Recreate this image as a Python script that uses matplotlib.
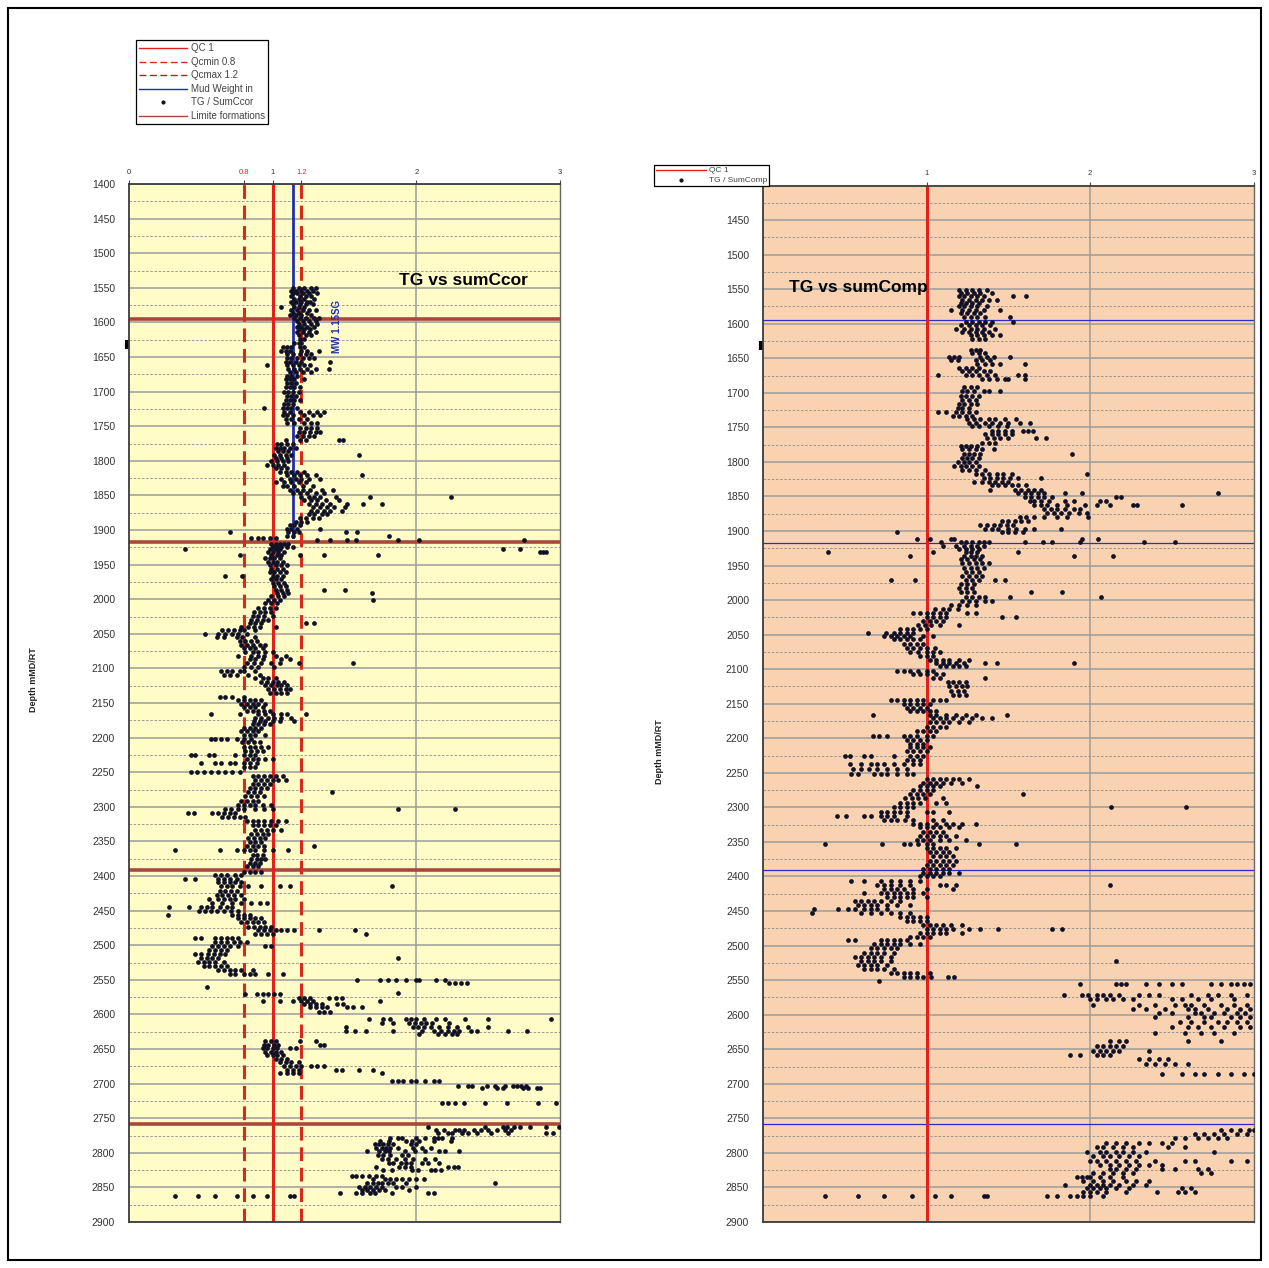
import matplotlib.pyplot as plt
from matplotlib.lines import Line2D
from matplotlib.patches import Rectangle

plt.rcParams["font.family"] = ["Liberation Sans", "DejaVu Sans"]

# ---- chart data -------------------------------------------------------
depth_ticks = list(range(1400, 2901, 50))
depth_minor = list(range(1425, 2900, 50))
formation_tops = [1595, 1917, 2391, 2758]
qc_ref, qc_min, qc_max = 1.0, 0.8, 1.2
mud_weight, mw_top, mw_base = 1.14, 1400, 1910

# TG / SumCcor, rows of (depth, [ratios])
ccor_zone1 = [
    (1550, [1.14, 1.18, 1.22, 1.27, 1.30]), (1554, [1.13, 1.16, 1.20, 1.24, 1.28]),
    (1558, [1.14, 1.17, 1.21, 1.25, 1.31]), (1562, [1.13, 1.19, 1.23, 1.27]),
    (1566, [1.15, 1.18, 1.22, 1.29]), (1570, [1.13, 1.16, 1.20, 1.24, 1.26]),
    (1574, [1.14, 1.19, 1.23, 1.28]), (1578, [1.06, 1.15, 1.18, 1.22]),
    (1582, [1.13, 1.17, 1.21, 1.25, 1.30]), (1586, [1.14, 1.18, 1.24]),
    (1590, [1.12, 1.16, 1.20, 1.27]), (1594, [1.15, 1.19, 1.23, 1.29, 1.32]),
]
ccor_zone2 = [
    (1598, [1.17, 1.21, 1.25, 1.30]), (1602, [1.18, 1.22, 1.27, 1.31]),
    (1606, [1.17, 1.20, 1.24, 1.29]), (1610, [1.18, 1.22, 1.26]),
    (1614, [1.17, 1.21, 1.25, 1.30]), (1618, [1.18, 1.23, 1.27]),
    (1624, [1.19, 1.22]), (1630, [1.15, 1.18, 1.20]),
    (1636, [1.07, 1.10, 1.13, 1.19, 1.22]), (1641, [1.06, 1.09, 1.12, 1.20, 1.24, 1.32]),
    (1646, [1.10, 1.14, 1.19, 1.23, 1.27]), (1652, [1.10, 1.13, 1.17, 1.21, 1.25, 1.29]),
    (1657, [1.09, 1.12, 1.16, 1.20, 1.40]), (1662, [0.96, 1.10, 1.14, 1.18, 1.22, 1.26]),
    (1667, [1.11, 1.15, 1.19, 1.24, 1.30, 1.39]), (1672, [1.12, 1.16, 1.21, 1.27]),
    (1677, [1.10, 1.13, 1.17]), (1682, [1.09, 1.12, 1.15, 1.22]),
    (1688, [1.10, 1.13, 1.16]), (1694, [1.09, 1.12, 1.15, 1.19]),
    (1700, [1.08, 1.11, 1.14, 1.18]), (1706, [1.10, 1.13, 1.16]),
    (1712, [1.09, 1.12, 1.15, 1.19]), (1718, [1.08, 1.11, 1.14]),
    (1724, [0.94, 1.07, 1.10, 1.13, 1.17]), (1729, [1.08, 1.12, 1.19, 1.25, 1.31, 1.36]),
    (1734, [1.07, 1.10, 1.14, 1.22, 1.28, 1.33]), (1740, [1.09, 1.13, 1.18, 1.24]),
    (1746, [1.10, 1.15, 1.22, 1.27, 1.31]), (1752, [1.19, 1.23, 1.27, 1.31]),
    (1758, [1.18, 1.22, 1.26, 1.30, 1.33]), (1764, [1.17, 1.21, 1.25, 1.29]),
    (1770, [1.09, 1.19, 1.23, 1.46, 1.49]), (1776, [1.03, 1.06, 1.10, 1.14]),
    (1781, [1.02, 1.05, 1.08, 1.12, 1.16]), (1786, [1.04, 1.07, 1.11]),
    (1791, [1.01, 1.05, 1.09, 1.13, 1.60]), (1796, [1.02, 1.06, 1.10]),
    (1801, [0.99, 1.03, 1.07, 1.11]), (1806, [0.96, 1.00, 1.04, 1.08]),
    (1811, [1.02, 1.06, 1.10]), (1816, [1.05, 1.09, 1.13, 1.17, 1.22]),
    (1821, [1.10, 1.15, 1.19, 1.24, 1.30, 1.62]), (1826, [1.06, 1.12, 1.16, 1.20, 1.25, 1.33]),
    (1831, [1.02, 1.08, 1.13, 1.18, 1.23]), (1836, [1.07, 1.10, 1.15, 1.21, 1.28]),
    (1842, [1.12, 1.17, 1.21, 1.26, 1.34, 1.42]), (1847, [1.14, 1.19, 1.24, 1.30, 1.36]),
    (1852, [1.20, 1.25, 1.29, 1.33, 1.44, 1.68, 2.24]), (1857, [1.22, 1.27, 1.31, 1.37, 1.46]),
    (1862, [1.25, 1.30, 1.34, 1.40, 1.52, 1.63, 1.76]), (1867, [1.28, 1.33, 1.38, 1.43, 1.50]),
    (1872, [1.27, 1.31, 1.36, 1.40, 1.48]), (1877, [1.25, 1.29, 1.34, 1.38]),
    (1882, [1.19, 1.23, 1.28, 1.32]), (1888, [1.16, 1.20, 1.24]),
    (1893, [1.12, 1.15, 1.19]), (1898, [1.10, 1.13, 1.17, 1.33]),
    (1903, [0.70, 1.11, 1.15, 1.18, 1.51, 1.59]), (1908, [1.10, 1.14, 1.81]),
    (1912, [0.85, 0.90, 0.93, 0.98, 1.02]), (1915, [1.31, 1.40, 1.52, 1.58, 1.87, 2.02, 2.75]),
]
ccor_zone3 = [
    (1920, [0.99, 1.02, 1.05, 1.08, 1.11]), (1924, [1.00, 1.03, 1.06, 1.10, 1.14]),
    (1928, [0.39, 0.98, 1.02, 1.05, 2.60, 2.72]), (1932, [0.97, 1.00, 1.04, 1.08, 2.86, 2.88, 2.90]),
    (1936, [0.77, 0.99, 1.03, 1.06, 1.19, 1.36, 1.73]), (1941, [0.95, 0.98, 1.01, 1.05]),
    (1946, [0.97, 1.00, 1.03, 1.07]), (1951, [0.98, 1.02, 1.06, 1.10]),
    (1956, [0.99, 1.03, 1.07]), (1961, [0.98, 1.01, 1.05, 1.09]),
    (1966, [0.67, 0.79, 1.00, 1.03, 1.07]), (1971, [0.99, 1.02, 1.06]),
    (1976, [1.00, 1.04, 1.08]), (1981, [1.01, 1.05, 1.09]),
    (1986, [1.02, 1.06, 1.10, 1.36, 1.50]), (1991, [1.03, 1.07, 1.11, 1.69]),
    (1996, [0.99, 1.04, 1.08]), (2001, [0.97, 1.01, 1.05, 1.70]),
    (2006, [0.95, 0.99, 1.03]), (2012, [0.90, 0.94, 0.98, 1.02]),
    (2018, [0.87, 0.91, 0.95, 0.99]), (2024, [0.86, 0.90, 0.94, 1.00]),
    (2030, [0.85, 0.89, 0.93, 0.97]), (2035, [0.84, 0.88, 0.92, 1.23, 1.29]),
    (2040, [0.78, 0.83, 0.87, 0.91, 1.02]), (2045, [0.65, 0.69, 0.73, 0.77, 0.80, 0.88]),
    (2050, [0.53, 0.62, 0.67, 0.72, 0.76, 0.82]), (2055, [0.61, 0.66, 0.75, 0.79, 0.88]),
    (2060, [0.77, 0.81, 0.85, 0.89]), (2066, [0.78, 0.82, 0.86, 0.91, 0.95]),
    (2071, [0.80, 0.84, 0.88, 0.93]), (2077, [0.81, 0.86, 0.90, 0.95, 1.00]),
    (2082, [0.76, 0.85, 0.90, 0.94, 1.02, 1.09]), (2087, [0.84, 0.88, 0.93, 1.06, 1.12]),
    (2092, [0.82, 0.87, 0.92, 0.99, 1.05, 1.18, 1.56]), (2098, [0.80, 0.85, 0.90, 1.01]),
    (2104, [0.64, 0.68, 0.72, 0.77, 0.80, 0.88]), (2109, [0.66, 0.70, 0.75, 0.83, 0.91]),
    (2114, [0.88, 0.93, 0.97, 1.02]), (2119, [0.92, 0.96, 1.00, 1.04, 1.08]),
    (2124, [0.95, 0.99, 1.03, 1.06, 1.10]), (2130, [0.97, 1.01, 1.05, 1.09, 1.12]),
    (2135, [0.98, 1.02, 1.06, 1.10]), (2141, [0.63, 0.67, 0.72, 0.80]),
    (2146, [0.76, 0.80, 0.84, 0.88, 0.92]), (2151, [0.78, 0.82, 0.86, 0.90, 0.95]),
    (2156, [0.80, 0.84, 0.88, 0.93]), (2161, [0.82, 0.86, 0.90, 0.94, 0.98]),
    (2166, [0.57, 0.77, 0.90, 0.95, 1.00, 1.06, 1.10, 1.23]), (2171, [0.88, 0.92, 0.97, 1.01, 1.06, 1.13]),
    (2176, [0.87, 0.91, 0.95, 1.00, 1.05, 1.15]), (2181, [0.86, 0.90, 0.94, 0.98]),
    (2186, [0.80, 0.84, 0.88, 0.92]), (2191, [0.78, 0.82, 0.86, 0.90]),
    (2196, [0.80, 0.84, 0.88, 0.95]), (2202, [0.57, 0.60, 0.64, 0.68, 0.75, 0.80, 0.85]),
    (2207, [0.79, 0.83, 0.87, 0.91]), (2213, [0.80, 0.84, 0.88, 0.92, 0.97]),
    (2219, [0.81, 0.85, 0.89, 0.93]), (2225, [0.43, 0.46, 0.56, 0.59, 0.74, 0.80, 0.84, 0.88]),
    (2231, [0.82, 0.86, 0.90, 0.95, 1.00]), (2237, [0.50, 0.60, 0.64, 0.70, 0.74, 0.80, 0.84, 0.89]),
    (2243, [0.80, 0.84, 0.88]), (2249, [0.43, 0.47, 0.52, 0.57, 0.62, 0.67, 0.72, 0.77]),
    (2255, [0.86, 0.90, 0.94, 0.98, 1.02, 1.07]), (2261, [0.88, 0.92, 0.96, 1.00, 1.04, 1.09]),
    (2267, [0.86, 0.90, 0.94, 0.98]), (2273, [0.84, 0.88, 0.92, 0.96]),
    (2279, [0.83, 0.87, 0.91, 1.41]), (2285, [0.81, 0.85, 0.89, 0.94]),
    (2291, [0.78, 0.82, 0.86, 0.90]), (2297, [0.76, 0.80, 0.84, 0.88, 0.93, 0.99]),
    (2303, [0.67, 0.71, 0.76, 0.80, 0.88, 0.94, 1.00, 1.87, 2.27]),
    (2309, [0.41, 0.45, 0.58, 0.62, 0.66, 0.70, 0.74]), (2315, [0.65, 0.69, 0.73, 0.77, 0.81]),
    (2321, [0.82, 0.86, 0.90, 0.94, 0.99, 1.04, 1.09]), (2327, [0.86, 0.90, 0.94, 0.98, 1.02]),
    (2333, [0.88, 0.92, 0.96, 1.00, 1.06]), (2339, [0.85, 0.89, 0.93, 0.97]),
    (2345, [0.83, 0.87, 0.91, 0.95]), (2351, [0.84, 0.88, 0.92]),
    (2357, [0.82, 0.86, 0.90, 0.94, 1.29]),
    (2363, [0.32, 0.63, 0.75, 0.80, 0.84, 0.88, 0.94, 1.00, 1.11]),
    (2369, [0.86, 0.89, 0.93]), (2375, [0.85, 0.89, 0.92, 0.95]),
    (2381, [0.84, 0.88, 0.91]), (2386, [0.82, 0.86, 0.90]),
]
ccor_zone4 = [
    (2394, [0.80, 0.84, 0.88, 0.92]), (2399, [0.60, 0.64, 0.68, 0.74, 0.78]),
    (2404, [0.39, 0.46, 0.62, 0.66, 0.70, 0.75]), (2409, [0.62, 0.66, 0.70, 0.74, 0.78]),
    (2415, [0.64, 0.68, 0.72, 0.77, 0.83, 0.92, 1.05, 1.12, 1.83]),
    (2421, [0.63, 0.67, 0.71, 0.75]), (2427, [0.61, 0.65, 0.69, 0.73, 0.78]),
    (2433, [0.56, 0.62, 0.66, 0.70, 0.74, 0.80]), (2439, [0.58, 0.65, 0.72, 0.78, 0.85, 0.91, 0.96]),
    (2445, [0.28, 0.42, 0.50, 0.54, 0.58, 0.63, 0.68, 0.72]),
    (2451, [0.49, 0.53, 0.57, 0.61, 0.66, 0.71, 0.76]), (2456, [0.27, 0.72, 0.76, 0.80, 0.84]),
    (2461, [0.76, 0.80, 0.84, 0.88, 0.92]), (2467, [0.78, 0.82, 0.86, 0.90, 0.94]),
    (2473, [0.83, 0.87, 0.91, 0.95, 0.99]),
    (2478, [0.90, 0.94, 0.98, 1.02, 1.06, 1.10, 1.15, 1.32, 1.57]),
    (2484, [0.88, 0.92, 0.96, 1.00, 1.65]), (2490, [0.46, 0.50, 0.60, 0.64, 0.68, 0.72, 0.76]),
    (2495, [0.60, 0.64, 0.68, 0.73, 0.77, 0.82]), (2501, [0.58, 0.62, 0.66, 0.70, 0.76, 0.95, 0.99]),
    (2507, [0.56, 0.60, 0.64, 0.68]), (2513, [0.46, 0.50, 0.55, 0.59, 0.63, 0.67]),
    (2518, [0.50, 0.54, 0.58, 0.62, 1.87]), (2524, [0.48, 0.52, 0.56, 0.60, 0.66]),
    (2530, [0.52, 0.56, 0.60, 0.64, 0.68]), (2536, [0.62, 0.66, 0.70, 0.74, 0.78, 0.86]),
    (2542, [0.70, 0.74, 0.80, 0.84, 0.88, 0.97, 1.07]),
    (2550, [1.59, 1.75, 1.80, 1.86, 1.93, 2.00, 2.02, 2.14, 2.20]),
    (2554, [2.23, 2.27, 2.31, 2.35]), (2560, [0.54]), (2569, [1.87]),
    (2571, [0.81, 0.89, 0.93, 0.97, 1.01, 1.05]), (2576, [1.18, 1.22, 1.26, 1.39, 1.44, 1.48]),
    (2580, [0.93, 1.05, 1.14, 1.20, 1.24, 1.28, 1.75]), (2585, [1.22, 1.26, 1.30, 1.34, 1.45, 1.49]),
    (2590, [1.26, 1.30, 1.34, 1.38, 1.52, 1.56, 1.62]), (2596, [1.32, 1.36, 1.40]),
    (2607, [1.67, 1.77, 1.82, 1.93, 1.96, 2.00, 2.05, 2.14, 2.20, 2.34, 2.50, 2.94]),
    (2612, [1.76, 1.84, 1.95, 1.99, 2.03, 2.07, 2.11, 2.23]),
    (2618, [1.51, 1.98, 2.01, 2.05, 2.10, 2.16, 2.22, 2.28, 2.36, 2.50]),
    (2624, [1.51, 1.57, 1.65, 1.84, 2.04, 2.12, 2.17, 2.22, 2.26, 2.30, 2.38, 2.42, 2.64, 2.77]),
    (2629, [2.02, 2.15, 2.20, 2.25, 2.28]), (2639, [0.95, 0.99, 1.02, 1.19, 1.30]),
    (2644, [0.94, 0.97, 1.01, 1.04, 1.33, 1.36]), (2649, [0.93, 0.96, 1.00, 1.03, 1.12, 1.16]),
    (2654, [0.95, 0.99, 1.02, 1.06]), (2659, [0.96, 1.00, 1.03, 1.07]),
    (2664, [1.02, 1.06, 1.10]), (2669, [1.05, 1.09, 1.13, 1.18]),
    (2675, [1.08, 1.12, 1.16, 1.20, 1.27, 1.31, 1.36]), (2680, [1.10, 1.14, 1.18, 1.44, 1.48, 1.60, 1.70]),
    (2685, [1.05, 1.10, 1.14, 1.18, 1.76]), (2696, [1.83, 1.87, 1.91, 1.96, 2.00, 2.06, 2.12, 2.16]),
    (2703, [2.29, 2.36, 2.39, 2.49, 2.55, 2.62, 2.67, 2.70, 2.73, 2.76]),
    (2707, [2.46, 2.56, 2.60, 2.74, 2.78, 2.84, 2.86]),
    (2728, [2.18, 2.22, 2.27, 2.33, 2.48, 2.63, 2.85, 2.97]),
]
ccor_zone5 = [
    (2762, [2.08, 2.48, 2.60, 2.63, 2.68, 2.72, 2.79, 2.90, 2.99]),
    (2767, [2.14, 2.19, 2.27, 2.30, 2.33, 2.40, 2.45, 2.50, 2.56, 2.62, 2.66]),
    (2772, [2.15, 2.22, 2.25, 2.32, 2.36, 2.42, 2.52, 2.64, 2.90, 2.95]),
    (2778, [1.82, 1.87, 1.90, 2.00, 2.06, 2.12, 2.15, 2.18, 2.25]),
    (2783, [1.75, 1.81, 1.93, 1.97, 2.02, 2.12, 2.24]),
    (2788, [1.71, 1.74, 1.77, 1.80, 1.84, 1.96, 2.00]),
    (2793, [1.72, 1.76, 1.79, 1.82, 1.87, 1.98, 2.04, 2.10]),
    (2798, [1.66, 1.74, 1.78, 1.81, 1.92, 1.99, 2.06, 2.16, 2.20, 2.30]),
    (2803, [1.73, 1.77, 1.82, 1.90, 1.94]),
    (2809, [1.76, 1.80, 1.86, 1.92, 1.98, 2.06, 2.13]),
    (2815, [1.81, 1.84, 1.89, 1.93, 1.96, 2.04, 2.08, 2.16]),
    (2820, [1.72, 1.88, 1.92, 1.96, 2.22, 2.26, 2.29]),
    (2825, [1.77, 1.83, 1.97, 2.01, 2.10, 2.13, 2.17]),
    (2833, [1.55, 1.58, 1.62, 1.67, 1.72, 1.76]),
    (2838, [1.70, 1.78, 1.82, 1.86, 1.90, 1.95, 2.00, 2.05]),
    (2843, [1.66, 1.70, 1.73, 1.76, 1.80, 1.84, 1.93, 2.55]),
    (2849, [1.60, 1.64, 1.68, 1.72, 1.76, 1.86, 1.90, 2.00]),
    (2854, [1.62, 1.66, 1.70, 1.74, 1.78, 1.95]),
    (2858, [1.47, 1.58, 1.62, 1.68, 1.71, 1.83, 2.08, 2.12]),
    (2862, [0.32, 0.48, 0.60, 0.75, 0.86, 0.96, 1.12, 1.15]),
]

# TG / SumComp, rows of (depth, [ratios])
comp_zone1 = [
    (1551, [1.20, 1.24, 1.28, 1.32, 1.37]), (1555, [1.21, 1.25, 1.29, 1.33, 1.40]),
    (1560, [1.20, 1.23, 1.27, 1.31, 1.35, 1.53, 1.61]), (1565, [1.22, 1.26, 1.30, 1.34, 1.38, 1.43]),
    (1570, [1.21, 1.24, 1.28, 1.32]), (1575, [1.20, 1.23, 1.27, 1.31, 1.37]),
    (1580, [1.15, 1.22, 1.26, 1.30, 1.35, 1.45]), (1585, [1.21, 1.25, 1.29, 1.33]),
    (1590, [1.23, 1.27, 1.31, 1.36, 1.51]),
]
comp_zone2 = [
    (1597, [1.24, 1.28, 1.32, 1.36, 1.40, 1.53]), (1602, [1.21, 1.26, 1.30, 1.34, 1.39]),
    (1607, [1.18, 1.23, 1.27, 1.31, 1.35, 1.42]), (1612, [1.22, 1.26, 1.30, 1.34, 1.38]),
    (1617, [1.27, 1.31, 1.35, 1.40, 1.45]), (1622, [1.28, 1.32, 1.36]),
    (1638, [1.27, 1.30, 1.33]), (1643, [1.28, 1.32, 1.36]),
    (1648, [1.14, 1.17, 1.20, 1.33, 1.37, 1.41, 1.51]), (1653, [1.15, 1.19, 1.30, 1.34, 1.39]),
    (1659, [1.31, 1.36, 1.40, 1.45, 1.60]), (1664, [1.20, 1.24, 1.28, 1.32]),
    (1669, [1.22, 1.26, 1.30, 1.35, 1.39]), (1674, [1.07, 1.24, 1.28, 1.32, 1.37, 1.42, 1.56, 1.60]),
    (1680, [1.34, 1.38, 1.43, 1.48, 1.50, 1.60]), (1692, [1.23, 1.27, 1.31]),
    (1698, [1.22, 1.25, 1.29, 1.35, 1.38, 1.45]), (1704, [1.21, 1.24, 1.28, 1.32]),
    (1710, [1.22, 1.26, 1.30]), (1716, [1.20, 1.23, 1.27, 1.31]),
    (1722, [1.19, 1.22, 1.26]), (1728, [1.07, 1.12, 1.18, 1.22, 1.26, 1.30]),
    (1733, [1.16, 1.20, 1.24, 1.28]), (1738, [1.25, 1.29, 1.33, 1.38, 1.42, 1.48, 1.55]),
    (1743, [1.26, 1.30, 1.36, 1.40, 1.45, 1.50, 1.57, 1.63]), (1748, [1.28, 1.32, 1.38, 1.44, 1.49]),
    (1755, [1.40, 1.44, 1.48, 1.52, 1.59, 1.62, 1.65]), (1760, [1.36, 1.40, 1.44, 1.48, 1.52]),
    (1766, [1.37, 1.41, 1.45, 1.50, 1.67, 1.73]), (1772, [1.34, 1.38, 1.42]),
    (1777, [1.21, 1.24, 1.27, 1.31]), (1782, [1.22, 1.26, 1.30, 1.34, 1.41]),
    (1788, [1.23, 1.26, 1.29, 1.33, 1.89]), (1794, [1.22, 1.25, 1.28, 1.32]),
    (1800, [1.19, 1.23, 1.26, 1.30]), (1806, [1.17, 1.21, 1.24, 1.28, 1.32]),
    (1812, [1.22, 1.26, 1.30, 1.36]), (1818, [1.30, 1.34, 1.38, 1.43, 1.47, 1.52, 1.98]),
    (1823, [1.35, 1.39, 1.43, 1.47, 1.51, 1.56, 1.70]), (1829, [1.29, 1.34, 1.38, 1.42, 1.46, 1.50]),
    (1834, [1.40, 1.44, 1.48, 1.52, 1.56, 1.61]), (1840, [1.39, 1.54, 1.58, 1.62, 1.66, 1.70]),
    (1845, [1.56, 1.60, 1.64, 1.68, 1.72, 1.85, 1.95, 2.78]),
    (1851, [1.60, 1.64, 1.68, 1.72, 1.77, 2.16, 2.19]),
    (1856, [1.63, 1.66, 1.70, 1.75, 1.85, 1.90, 2.06, 2.10]),
    (1862, [1.66, 1.70, 1.74, 1.80, 1.86, 1.97, 2.04, 2.12, 2.26, 2.29, 2.56]),
    (1868, [1.72, 1.76, 1.80, 1.85, 1.90, 1.94]), (1874, [1.74, 1.78, 1.82, 1.87, 1.93, 1.98]),
    (1880, [1.57, 1.61, 1.66, 1.72, 1.80, 1.86, 1.99]), (1886, [1.46, 1.50, 1.54, 1.58, 1.62]),
    (1891, [1.33, 1.37, 1.41, 1.45, 1.49, 1.53]),
    (1897, [1.36, 1.40, 1.44, 1.50, 1.55, 1.60, 1.66, 1.82]),
    (1902, [0.82, 1.46, 1.50, 1.54, 1.59]), (1912, [0.94, 1.02, 1.15, 1.17, 1.95, 2.05]),
    (1916, [1.09, 1.21, 1.24, 1.28, 1.32, 1.35, 1.38, 1.60, 1.71, 1.77, 1.94, 2.33, 2.52]),
]
comp_zone3 = [
    (1921, [1.10, 1.18, 1.23, 1.27, 1.31, 1.35]), (1926, [1.20, 1.24, 1.28, 1.32]),
    (1931, [0.40, 1.04, 1.24, 1.27, 1.31, 1.56]), (1936, [0.90, 1.23, 1.27, 1.30, 1.34, 1.90, 2.14]),
    (1941, [1.21, 1.25, 1.29, 1.33]), (1947, [1.22, 1.26, 1.30, 1.34, 1.38]),
    (1953, [1.23, 1.27, 1.31, 1.35]), (1959, [1.24, 1.28, 1.32]),
    (1965, [1.22, 1.26, 1.30, 1.34]), (1971, [0.78, 0.93, 1.24, 1.28, 1.32, 1.42, 1.48]),
    (1977, [1.21, 1.25, 1.29]), (1983, [1.20, 1.24, 1.28]),
    (1989, [1.21, 1.25, 1.29, 1.64, 1.83]), (1995, [1.24, 1.28, 1.32, 1.36, 1.51, 2.07]),
    (2001, [1.22, 1.26, 1.30, 1.36, 1.40]), (2007, [1.15, 1.20, 1.25, 1.30]),
    (2013, [1.05, 1.10, 1.14, 1.19]), (2018, [0.92, 0.96, 1.00, 1.04, 1.08, 1.12, 1.25, 1.30]),
    (2024, [1.00, 1.04, 1.08, 1.12, 1.46, 1.55]), (2030, [0.98, 1.02, 1.06, 1.10]),
    (2036, [0.95, 0.99, 1.03, 1.08, 1.20]), (2042, [0.84, 0.88, 0.92, 0.96, 1.00]),
    (2047, [0.64, 0.75, 0.80, 0.84, 0.88, 0.92]), (2052, [0.74, 0.78, 0.82, 0.86, 0.90, 0.98, 1.04]),
    (2057, [0.80, 0.84, 0.88, 0.92, 0.96]), (2063, [0.86, 0.90, 0.94, 0.98]),
    (2069, [0.88, 0.92, 0.96, 1.00, 1.05]), (2075, [0.90, 0.95, 1.00, 1.04, 1.08]),
    (2081, [0.96, 1.00, 1.04]), (2086, [1.02, 1.06, 1.10, 1.14, 1.20, 1.26]),
    (2091, [1.06, 1.10, 1.14, 1.18, 1.23, 1.36, 1.43, 1.90]), (2096, [1.08, 1.12, 1.16, 1.20, 1.24]),
    (2102, [0.82, 0.86, 0.90, 0.95, 1.00, 1.04]), (2107, [0.92, 0.96, 1.00, 1.06, 1.10]),
    (2113, [1.04, 1.08, 1.36]), (2119, [1.13, 1.16, 1.20, 1.24]),
    (2125, [1.14, 1.18, 1.22, 1.25]), (2131, [1.15, 1.19, 1.23]), (2137, [1.16, 1.20, 1.24]),
    (2144, [0.78, 0.82, 0.86, 0.90, 0.94, 0.98, 1.04, 1.08, 1.12]),
    (2150, [0.86, 0.90, 0.94, 0.98, 1.02]), (2156, [0.88, 0.92, 0.96, 1.00]),
    (2161, [0.90, 0.94, 0.98, 1.02, 1.06]), (2166, [0.67, 1.02, 1.06, 1.12, 1.18, 1.24, 1.30, 1.49]),
    (2171, [1.04, 1.08, 1.12, 1.16, 1.22, 1.28, 1.34, 1.40]),
    (2177, [1.02, 1.06, 1.10, 1.14, 1.20, 1.26]), (2183, [1.00, 1.04, 1.08, 1.12]),
    (2190, [0.94, 0.98, 1.02, 1.06]), (2196, [0.67, 0.71, 0.76, 0.86, 0.90, 0.94, 1.00, 1.04]),
    (2202, [0.88, 0.92, 0.96, 1.00]), (2208, [0.90, 0.94, 0.98]),
    (2213, [0.90, 0.94, 0.98, 1.02]), (2219, [0.88, 0.92, 0.96, 1.00]),
    (2225, [0.50, 0.53, 0.62, 0.66, 0.80, 0.90, 0.94, 0.98]), (2231, [0.88, 0.92, 0.96]),
    (2237, [0.53, 0.60, 0.66, 0.70, 0.74, 0.80, 0.86, 0.92, 0.96]),
    (2244, [0.55, 0.60, 0.65, 0.70, 0.76, 0.82, 0.88]),
    (2251, [0.54, 0.58, 0.68, 0.72, 0.76, 0.82, 0.88, 0.92]),
    (2259, [1.00, 1.04, 1.08, 1.12, 1.16, 1.20, 1.26]), (2264, [0.98, 1.02, 1.06, 1.10, 1.15, 1.22]),
    (2269, [0.96, 1.00, 1.04, 1.08, 1.31]), (2275, [0.92, 0.96, 1.00, 1.04]),
    (2281, [0.90, 0.94, 0.98, 1.02, 1.59]), (2287, [0.87, 0.91, 0.95, 0.99, 1.10]),
    (2293, [0.84, 0.88, 0.92, 0.96, 1.06, 1.12]), (2300, [0.80, 0.84, 0.88, 0.92, 2.13, 2.59]),
    (2306, [0.72, 0.76, 0.80, 0.84, 0.88, 1.00, 1.04, 1.14]),
    (2312, [0.45, 0.51, 0.62, 0.66, 0.72, 0.76, 0.80, 0.88]),
    (2318, [0.74, 0.78, 0.82, 0.87, 0.92, 1.04, 1.10]),
    (2324, [0.92, 0.96, 1.00, 1.06, 1.12, 1.16, 1.22, 1.30]),
    (2329, [0.96, 1.00, 1.04, 1.08, 1.14, 1.20]), (2335, [0.98, 1.02, 1.06, 1.10]),
    (2341, [0.96, 1.00, 1.04, 1.08, 1.12, 1.18]), (2347, [0.94, 0.98, 1.02, 1.08, 1.14, 1.24]),
    (2353, [0.38, 0.73, 0.86, 0.90, 0.95, 1.00, 1.04, 1.32, 1.55]),
    (2359, [1.00, 1.04, 1.08, 1.12, 1.18]), (2365, [1.02, 1.06, 1.10, 1.14]),
    (2371, [1.04, 1.08, 1.12, 1.16]), (2377, [1.02, 1.06, 1.10, 1.14, 1.18]),
    (2383, [1.00, 1.04, 1.08, 1.12, 1.16]), (2389, [0.98, 1.02, 1.06, 1.10, 1.14]),
]
comp_zone4 = [
    (2395, [0.98, 1.02, 1.06, 1.10, 1.14, 1.20]), (2400, [0.96, 1.00, 1.04, 1.08]),
    (2406, [0.54, 0.62, 0.72, 0.78, 0.84, 0.90, 0.96]),
    (2412, [0.70, 0.74, 0.78, 0.84, 0.90, 1.08, 1.12, 1.18, 2.12]),
    (2418, [0.74, 0.78, 0.82, 0.86, 0.92, 1.00, 1.16]),
    (2424, [0.62, 0.72, 0.76, 0.80, 0.84, 0.88, 0.92, 0.98]),
    (2430, [0.76, 0.80, 0.84, 0.88, 0.92, 1.00]), (2436, [0.56, 0.60, 0.64, 0.68, 0.72, 0.78, 0.84]),
    (2441, [0.58, 0.62, 0.66, 0.70, 0.76, 0.82, 0.90]),
    (2447, [0.31, 0.46, 0.52, 0.56, 0.62, 0.66, 0.70, 0.76]),
    (2453, [0.30, 0.60, 0.66, 0.72, 0.78, 0.84, 0.90]), (2458, [0.84, 0.88, 0.92, 0.96, 1.00]),
    (2464, [0.88, 0.92, 0.96, 1.00]), (2470, [0.98, 1.02, 1.06, 1.10, 1.15, 1.22]),
    (2476, [1.00, 1.04, 1.08, 1.12, 1.16, 1.26, 1.33, 1.44, 1.77, 1.83]),
    (2482, [0.96, 1.00, 1.04, 1.08, 1.12, 1.22]), (2488, [0.90, 0.94, 0.98, 1.02]),
    (2492, [0.52, 0.56, 0.72, 0.76, 0.80, 0.84, 0.88]),
    (2498, [0.68, 0.72, 0.76, 0.80, 0.84, 0.90, 0.96]), (2504, [0.66, 0.70, 0.74, 0.78, 0.82]),
    (2510, [0.62, 0.66, 0.70, 0.74, 0.80]), (2516, [0.56, 0.60, 0.64, 0.68, 0.72, 0.78]),
    (2522, [0.60, 0.64, 0.68, 0.72, 0.78, 2.16]), (2528, [0.58, 0.62, 0.66, 0.70, 0.76]),
    (2534, [0.62, 0.66, 0.70, 0.74, 0.80]), (2540, [0.78, 0.82, 0.86, 0.90, 0.94, 1.02]),
    (2546, [0.86, 0.90, 0.94, 0.98, 1.03, 1.13, 1.17]), (2551, [0.71]),
    (2555, [1.94, 2.16, 2.19, 2.22, 2.34, 2.42, 2.50, 2.56, 2.74, 2.80, 2.86, 2.90, 2.94, 2.98]),
    (2571, [1.84, 1.95, 1.99, 2.04, 2.08, 2.12, 2.18, 2.30, 2.36, 2.42, 2.62, 2.72, 2.78, 2.86, 2.96]),
    (2577, [2.00, 2.04, 2.10, 2.14, 2.20, 2.26, 2.50, 2.56, 2.66, 2.74, 2.88]),
    (2586, [2.02, 2.30, 2.40, 2.52, 2.58, 2.62, 2.70, 2.80, 2.88, 2.96]),
    (2592, [2.26, 2.34, 2.46, 2.60, 2.64, 2.72, 2.84, 2.92, 2.98]),
    (2598, [2.42, 2.50, 2.64, 2.68, 2.76, 2.82, 2.90, 2.95]),
    (2604, [2.40, 2.60, 2.70, 2.74, 2.86, 2.92, 2.98]),
    (2610, [2.55, 2.62, 2.70, 2.78, 2.84, 2.90, 2.96]),
    (2618, [2.50, 2.60, 2.66, 2.74, 2.82, 2.92, 2.98]),
    (2626, [2.40, 2.58, 2.68, 2.76, 2.88]), (2638, [2.12, 2.18, 2.22, 2.60, 2.80]),
    (2645, [2.04, 2.08, 2.12, 2.16, 2.20]), (2652, [2.02, 2.06, 2.10, 2.14, 2.18, 2.36]),
    (2658, [1.88, 1.94, 2.04, 2.08, 2.12]), (2664, [2.30, 2.36, 2.42, 2.48]),
    (2672, [2.34, 2.40, 2.46, 2.52, 2.60]),
    (2686, [2.44, 2.56, 2.64, 2.70, 2.78, 2.86, 2.94, 3.00]),
]
comp_zone5 = [
    (2767, [2.80, 2.86, 2.92, 2.97, 3.00]), (2772, [2.64, 2.70, 2.76, 2.82, 2.90, 2.96]),
    (2779, [2.52, 2.58, 2.66, 2.72, 2.78, 2.84]),
    (2786, [2.10, 2.16, 2.22, 2.30, 2.36, 2.44, 2.50]),
    (2792, [2.04, 2.08, 2.14, 2.20, 2.26, 2.48, 2.58]),
    (2798, [1.98, 2.06, 2.10, 2.16, 2.20, 2.26, 2.34, 2.76]),
    (2804, [2.02, 2.08, 2.12, 2.18, 2.24, 2.30]),
    (2811, [2.00, 2.04, 2.10, 2.16, 2.22, 2.28, 2.40, 2.58, 2.64, 2.86, 2.96]),
    (2817, [2.06, 2.12, 2.18, 2.24, 2.30, 2.36, 2.44]),
    (2823, [2.12, 2.16, 2.22, 2.28, 2.44, 2.52, 2.66, 2.72]),
    (2829, [2.02, 2.08, 2.14, 2.20, 2.26, 2.68, 2.74]),
    (2835, [1.92, 1.95, 1.98, 2.00, 2.06, 2.12, 2.20]),
    (2840, [1.96, 2.02, 2.08, 2.14, 2.22, 2.28, 2.36]),
    (2846, [1.85, 2.00, 2.04, 2.08, 2.12, 2.18, 2.26, 2.34]),
    (2851, [1.98, 2.02, 2.06, 2.10, 2.16, 2.24, 2.56, 2.62]),
    (2857, [1.96, 2.00, 2.04, 2.10, 2.22, 2.41, 2.54, 2.58, 2.64]),
    (2862, [0.38, 0.58, 0.74, 0.91, 1.05, 1.15, 1.35, 1.37, 1.74, 1.80,
            1.88, 1.92, 1.96, 2.00, 2.08]),
]

# ---- styling -----------------------------------------------------------
DOT = "#111126"
QC_RED = "#e3211c"
FORM_RED = "#a9473d"
MW_BLUE = "#1f2db4"
GRID = "#9c9c9c"


def flatten(*zones):
    depths, ratios = [], []
    for zone in zones:
        for depth, vals in zone:
            depths += [depth] * len(vals)
            ratios += vals
    return depths, ratios


def setup_track(ax, face, xticks, xlabels):
    ax.set_facecolor(face)
    ax.set_xlim(0, 3)
    ax.set_ylim(2900, 1400)
    ax.set_yticks(depth_ticks)
    ax.set_yticks(depth_minor, minor=True)
    ax.yaxis.grid(True, which="major", color=GRID, lw=1.1)
    ax.yaxis.grid(True, which="minor", color="#8c8c8c", lw=0.6, ls=(0, (3, 2)))
    ax.axvline(1, color=GRID, lw=1.1, zorder=0.5)
    ax.axvline(2, color=GRID, lw=1.1, zorder=0.5)
    ax.set_axisbelow(True)
    ax.xaxis.tick_top()
    ax.set_xticks(xticks)
    ax.set_xticklabels(xlabels)
    ax.tick_params(axis="x", length=3, width=0.8, color="#444", pad=3,
                   labelsize=5.5, labelcolor="#333")
    ax.tick_params(axis="y", which="major", length=0, pad=10,
                   labelsize=7.5, labelcolor="#333")
    ax.tick_params(axis="y", which="minor", length=0)
    for side in ("left", "top", "bottom"):
        ax.spines[side].set_color("#3c3c3c")
        ax.spines[side].set_linewidth(1.3)
    ax.spines["right"].set_color("#666")
    ax.spines["right"].set_linewidth(1.0)
    # small black marker on the depth axis
    ax.plot([-0.012, -0.012], [1625, 1638], color="black", lw=3,
            clip_on=False, solid_capstyle="butt")


fig = plt.figure(figsize=(12.69, 12.68), dpi=100)

# ---- left track: TG / SumCcor -----------------------------------------
ax1 = fig.add_axes([129 / 1269, 1 - 1222 / 1268, 431 / 1269, 1038 / 1268])
setup_track(ax1, "#fffcc8", [0, 0.8, 1, 1.2, 2, 3],
            ["0", "0.8", "1", "1.2", "2", "3"])
for lbl in ax1.get_xticklabels():
    if lbl.get_text() in ("0.8", "1.2"):
        lbl.set_color(QC_RED)

for d in formation_tops:
    ax1.axhline(d, color=FORM_RED, lw=2.6, zorder=2)
ax1.axvline(qc_ref, color=QC_RED, lw=2.2, zorder=2)
ax1.axvline(qc_min, color="#d82a1c", lw=2.2, ls=(0, (4.5, 2.2)), zorder=2)
ax1.axvline(qc_max, color="#d82a1c", lw=2.2, ls=(0, (4.5, 2.2)), zorder=2)
ax1.plot([mud_weight, mud_weight], [mw_top, mw_base], color=MW_BLUE, lw=2, zorder=2)

d1, r1 = flatten(ccor_zone1, ccor_zone2, ccor_zone3, ccor_zone4, ccor_zone5)
ax1.plot(r1, d1, "o", ms=3.4, mec="none", color=DOT, zorder=3)

ax1.text(1.88, 1540, "TG vs sumCcor", fontsize=12.5, fontweight="bold",
         va="center", ha="left", zorder=4)
ax1.text(1.45, 1606, "MW 1.15SG", rotation=90, color=MW_BLUE, fontsize=7,
         fontweight="bold", ha="center", va="center", zorder=4)

# ---- right track: TG / SumComp ----------------------------------------
ax2 = fig.add_axes([763 / 1269, 1 - 1222 / 1268, 490.5 / 1269, 1036.5 / 1268])
setup_track(ax2, "#f9d3b1", [0, 1, 2, 3], ["", "1", "2", "3"])
ax2.set_yticklabels([""] + [str(d) for d in depth_ticks[1:]])

for d in formation_tops:
    ax2.axhline(d, color="#2a2ad2", lw=0.9, zorder=2)
ax2.axvline(qc_ref, color=QC_RED, lw=2.2, zorder=2)

d2, r2 = flatten(comp_zone1, comp_zone2, comp_zone3, comp_zone4, comp_zone5)
ax2.plot(r2, d2, "o", ms=3.4, mec="none", color=DOT, zorder=3)

ax2.text(0.16, 1547, "TG vs sumComp", fontsize=12.5, fontweight="bold",
         va="center", ha="left", zorder=4)

# ---- axis titles -------------------------------------------------------
fig.text(33 / 1269, 1 - 680 / 1268, "Depth mMD/RT", rotation=90, fontsize=6.5,
         fontweight="bold", ha="center", va="center", color="#222")
fig.text(660 / 1269, 1 - 752 / 1268, "Depth mMD/RT", rotation=90, fontsize=6.5,
         fontweight="bold", ha="center", va="center", color="#222")

# ---- legends -----------------------------------------------------------
left_handles = [
    Line2D([], [], color=QC_RED, lw=1.0),
    Line2D([], [], color="#d82a1c", lw=1.0, ls=(0, (5, 2.5))),
    Line2D([], [], color="#a82a1c", lw=1.0, ls=(0, (5, 2.5))),
    Line2D([], [], color=MW_BLUE, lw=1.0),
    Line2D([], [], color=DOT, ls="none", marker="o", ms=2),
    Line2D([], [], color=FORM_RED, lw=1.0),
]
left_labels = ["QC 1", "Qcmin 0.8", "Qcmax 1.2", "Mud Weight in",
               "TG / SumCcor", "Limite formations"]
leg1 = fig.legend(left_handles, left_labels, loc="upper left",
                  bbox_to_anchor=(136 / 1269, 1 - 40 / 1268), fontsize=7,
                  handlelength=4.9, handletextpad=0.4, labelspacing=0.36,
                  borderpad=0.35, borderaxespad=0, fancybox=False,
                  framealpha=1, edgecolor="black", labelcolor="#444")
leg1.get_frame().set_linewidth(0.9)

right_handles = [
    Line2D([], [], color=QC_RED, lw=1.0),
    Line2D([], [], color=DOT, ls="none", marker="o", ms=2),
]
leg2 = fig.legend(right_handles, ["QC 1", "TG / SumComp"], loc="upper left",
                  bbox_to_anchor=(654 / 1269, 1 - 165 / 1268), fontsize=6,
                  handlelength=6.0, handletextpad=0.4, labelspacing=0.25,
                  borderpad=0.2, borderaxespad=0, fancybox=False,
                  framealpha=1, edgecolor="black", labelcolor="#444")
leg2.get_frame().set_linewidth(0.9)

# ---- outer frame -------------------------------------------------------
fig.patches.append(Rectangle((8 / 1269, 8 / 1268), 1 - 16 / 1269, 1 - 16 / 1268,
                             transform=fig.transFigure, fill=False,
                             edgecolor="black", lw=1.5))

fig.savefig("out.png", dpi=100)
